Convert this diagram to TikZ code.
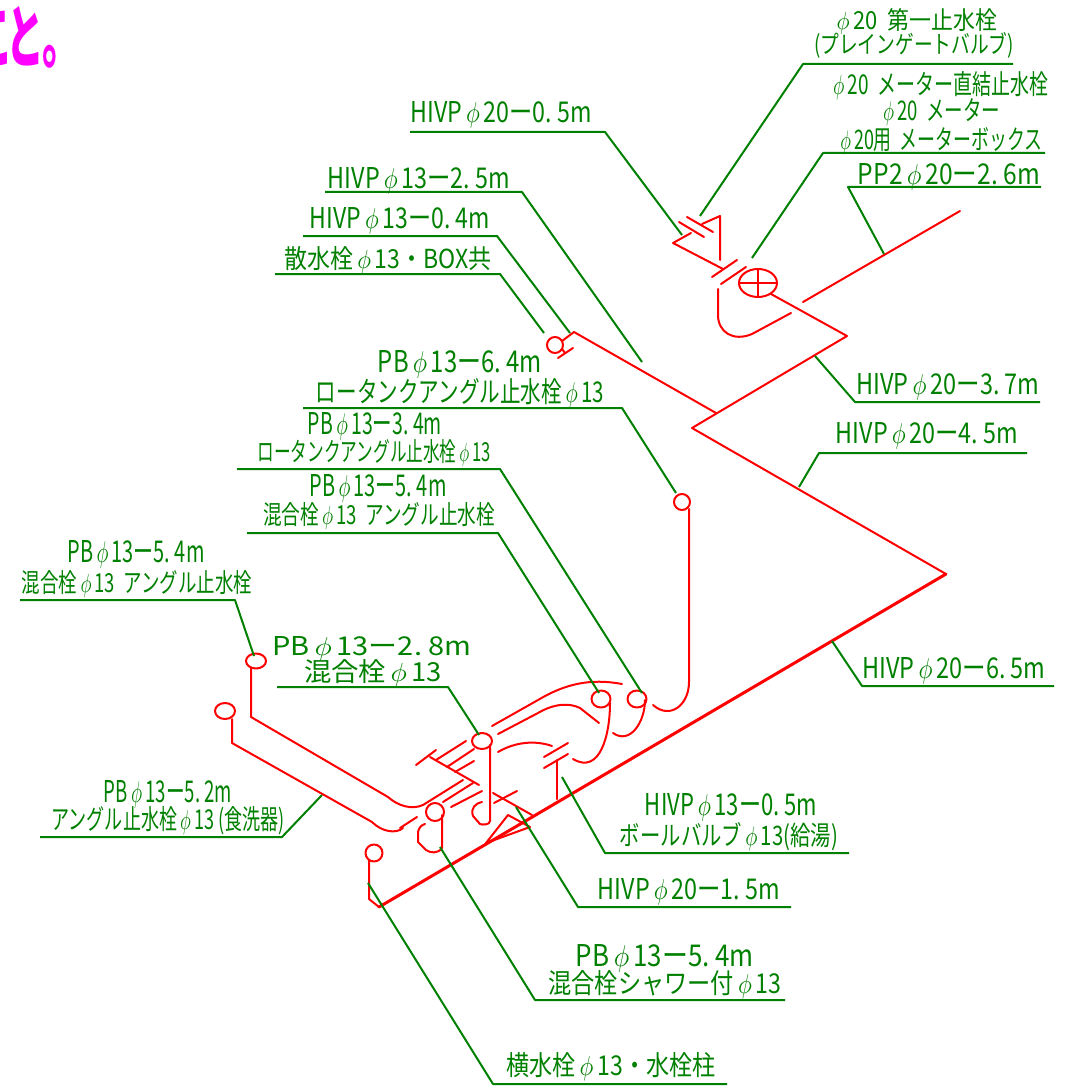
\documentclass[tikz,border=0pt]{standalone}
\usepackage{fontspec}
\setmainfont{Noto Sans CJK JP}
\definecolor{pipered}{RGB}{255,0,0}
\definecolor{leadgreen}{RGB}{0,128,0}
\definecolor{notepink}{RGB}{255,0,255}
\newcommand{\fitlbl}[3]{\resizebox{#1pt}{#2pt}{#3}}
\newcommand{\ph}{\,$\phi$\,}
\tikzset{
  pipe/.style={draw=pipered,line width=2pt,line cap=round,line join=round},
  mainpipe/.style={pipe,line width=3pt},
  leader/.style={draw=leadgreen,line width=2pt,line join=round},
  lbl/.style={text=leadgreen,inner sep=0pt},
}
\begin{document}
\begin{tikzpicture}[x=1pt,y=-1pt]
  \useasboundingbox (0,0) rectangle (1081,1086);
  % note text, cut off at the edge
  \node[inner sep=0pt,text=notepink] (noteend) at (28,37) {\resizebox{104pt}{56pt}{\bfseries こ\kern-.2emと\kern-.05em。}};

  % pipes, upper part
  \draw[pipe] (960,211) -- (803,302);
  \draw[pipe] (771,294) -- (847,336) -- (692,428) -- (946,574);
  \draw[mainpipe] (946,574) -- (379,907);
  \draw[pipe] (716,413) -- (574,332) -- (562,341);
  \draw[pipe] (558,358) -- (573,348);
  \draw[pipe] (562,349) -- (565,353);
  \draw[pipe] (555,345) circle (8);
  % meter and valves
  \draw[pipe] (758,283) ellipse (19 and 14);
  \draw[pipe] (739,283) -- (777,283);
  \draw[pipe] (758,269) -- (758,297);
  \draw[pipe] (720,260) -- (720,216) -- (702,224);
  \draw[pipe] (687,217) -- (713,232);
  \draw[pipe] (679,222) -- (704,237);
  \draw[pipe] (691,233) -- (673,243) -- (723,269);
  \draw[pipe] (712,277) -- (737,260);
  \draw[pipe] (721,284) -- (746,267);
  \draw[pipe] (718,289) -- (718,315) .. controls (718,332) and (733,342) .. (752,334) -- (791,313);

  % pipes, lower part
  \draw[pipe] (682,502) circle (8);
  \draw[pipe] (689,509) -- (689,682) .. controls (689,705) and (670,720) .. (653,705);
  \draw[pipe] (492,726) -- (538,700) .. controls (565,684) and (590,678) .. (622,684);
  \draw[pipe] (498,734) -- (538,713) .. controls (555,703) and (570,703) .. (580,708) -- (599,723);
  \draw[pipe] (601,699) ellipse (9.5 and 8.5);
  \draw[pipe] (637,699) ellipse (9.5 and 8.5);
  \draw[pipe] (610,703) .. controls (610,735) and (600,775) .. (573,759);
  \draw[pipe] (645,700) .. controls (645,722) and (630,745) .. (613,733);
  \draw[pipe] (498,752) .. controls (515,742) and (535,740) .. (552,746);
  \draw[pipe] (544,757) -- (568,743);
  \draw[pipe] (544,768) -- (568,754);
  \draw[pipe] (557,760) -- (557,799);
  \draw[pipe] (482,741) ellipse (10 and 8);
  \draw[pipe] (490,745) -- (490,821) .. controls (490,825) and (482,825) .. (480,824) -- (473,816) .. controls (470,808) and (476,803) .. (482,802);
  \draw[pipe] (416,765) -- (436,750);
  \draw[pipe] (430,757) -- (479,785);
  \draw[pipe] (436,760) -- (466,741);
  \draw[pipe] (447,767) -- (474,749);
  \draw[pipe] (455,772) -- (474,761);
  \draw[pipe] (443,802) -- (473,783);
  \draw[pipe] (451,807) -- (482,791);
  \draw[pipe] (493,793) -- (532,815);
  \draw[pipe] (494,803) -- (517,791);
  \draw[pipe] (486,843) -- (508,815) -- (530,827) -- cycle;
  % left risers
  \draw[pipe] (256,661) ellipse (10 and 7.5);
  \draw[pipe] (251,668) -- (251,717) -- (388,797) .. controls (398,806) and (412,810) .. (423,805) -- (463,780);
  \draw[pipe] (225,711) ellipse (10 and 8);
  \draw[pipe] (232,719) -- (232,743) -- (372,822) .. controls (382,832) and (396,834) .. (403,828);
  \draw[pipe] (400,828) -- (417,817);
  \draw[pipe] (435,812) circle (9);
  \draw[pipe] (442,815) -- (442,848) .. controls (438,854) and (430,853) .. (426,850) -- (418,842) -- (418,832) .. controls (419,828) and (421,825) .. (425,824);
  \draw[pipe] (374,853) circle (8.5);
  \draw[pipe] (369,860) -- (369,899) -- (379,907);

  % leaders
  \draw[leader] (1013,64) -- (803,64) -- (700,216);
  \draw[leader] (1045,153) -- (823,153) -- (752,258);
  \draw[leader] (1041,187) -- (848,187) -- (884,254);
  \draw[leader] (410,132) -- (605,132) -- (682,235);
  \draw[leader] (325,192) -- (522,192) -- (642,362);
  \draw[leader] (303,236) -- (497,236) -- (570,333);
  \draw[leader] (275,274) -- (500,274) -- (544,333);
  \draw[leader] (303,408) -- (622,408) -- (676,493);
  \draw[leader] (237,469) -- (500,469) -- (642,693);
  \draw[leader] (247,533) -- (498,533) -- (599,693);
  \draw[leader] (20,600) -- (235,600) -- (254,656);
  \draw[leader] (277,687) -- (448,687) -- (479,735);
  \draw[leader] (40,837) -- (282,837) -- (322,795);
  \draw[leader] (849,853) -- (605,853) -- (562,777);
  \draw[leader] (791,907) -- (578,907) -- (516,807);
  \draw[leader] (785,1000) -- (535,1000) -- (440,847);
  \draw[leader] (727,1084) -- (493,1084) -- (368,883);
  \draw[leader] (1040,402) -- (855,402) -- (815,356);
  \draw[leader] (1027,453) -- (819,453) -- (799,487);
  \draw[leader] (1054,686) -- (862,686) -- (832,641);

  % labels
  \node[lbl] (gatea) at (915,21) {\fitlbl{164}{21}{\ph 20\ \ 第一止水栓}};
  \node[lbl] (gateb) at (914,45) {\fitlbl{200}{21}{(プレインゲートバルブ)}};
  \node[lbl] (meta) at (939,86) {\fitlbl{218}{23}{\ph 20\ \ メーター直結止水栓}};
  \node[lbl] (metb) at (940,112) {\fitlbl{120}{22}{\ph 20\ \ メーター}};
  \node[lbl] (metc) at (940,141) {\fitlbl{205}{22}{\ph 20用\ \ メーターボックス}};
  \node[lbl] (ppa) at (949,177) {\fitlbl{182}{21}{PP2\ph 20ー2.\ 6m}};
  \node[lbl] (hva) at (501,115) {\fitlbl{181}{21}{HIVP\ph 20ー0.\ 5m}};
  \node[lbl] (hvb) at (419,181) {\fitlbl{182}{21}{HIVP\ph 13ー2.\ 5m}};
  \node[lbl] (hvc) at (400,221) {\fitlbl{180}{21}{HIVP\ph 13ー0.\ 4m}};
  \node[lbl] (spr) at (388,260) {\fitlbl{207}{22}{散水栓\ph 13・BOX共}};
  \node[lbl] (pba) at (460,364) {\fitlbl{164}{22}{PB\ph 13ー6.\ 4m}};
  \node[lbl] (lta) at (460,393) {\fitlbl{288}{24}{ロータンクアングル止水栓\ph 13}};
  \node[lbl] (pbb) at (375,426) {\fitlbl{134}{22}{PB\ph 13ー3.\ 4m}};
  \node[lbl] (ltb) at (374,453) {\fitlbl{233}{22}{ロータンクアングル止水栓\ph 13}};
  \node[lbl] (pbc) at (378,488) {\fitlbl{137}{22}{PB\ph 13ー5.\ 4m}};
  \node[lbl] (mxa) at (379,516) {\fitlbl{232}{22}{混合栓\ph 13\ \ アングル止水栓}};
  \node[lbl] (pbd) at (136,554) {\fitlbl{137}{22}{PB\ph 13ー5.\ 4m}};
  \node[lbl] (mxb) at (137,584) {\fitlbl{230}{22}{混合栓\ph 13\ \ アングル止水栓}};
  \node[lbl] (pbe) at (372,649) {\fitlbl{199}{19}{PB\ph 13ー2.\ 8m}};
  \node[lbl] (mxc) at (373,673) {\fitlbl{138}{22}{混合栓\ph 13}};
  \node[lbl] (pbf) at (168,794) {\fitlbl{128}{22}{PB\ph 13ー5.\ 2m}};
  \node[lbl] (agl) at (168,821) {\fitlbl{233}{23}{アングル止水栓\ph 13\ (食洗器)}};
  \node[lbl] (hvd) at (731,807) {\fitlbl{172}{22}{HIVP\ph 13ー0.\ 5m}};
  \node[lbl] (bal) at (729,837) {\fitlbl{218}{23}{ボールバルブ\ph 13(給湯)}};
  \node[lbl] (hve) at (689,892) {\fitlbl{182}{21}{HIVP\ph 20ー1.\ 5m}};
  \node[lbl] (pbg) at (665,958) {\fitlbl{178}{22}{PB\ph 13ー5.\ 4m}};
  \node[lbl] (shw) at (665,985) {\fitlbl{233}{23}{混合栓シャワー付\ph 13}};
  \node[lbl] (yok) at (611,1067) {\fitlbl{209}{23}{横水栓\ph 13・水栓柱}};
  \node[lbl] (hvf) at (948,387) {\fitlbl{183}{21}{HIVP\ph 20ー3.\ 7m}};
  \node[lbl] (hvg) at (927,436) {\fitlbl{182}{21}{HIVP\ph 20ー4.\ 5m}};
  \node[lbl] (hvh) at (954,671) {\fitlbl{183}{21}{HIVP\ph 20ー6.\ 5m}};
\end{tikzpicture}
\end{document}
